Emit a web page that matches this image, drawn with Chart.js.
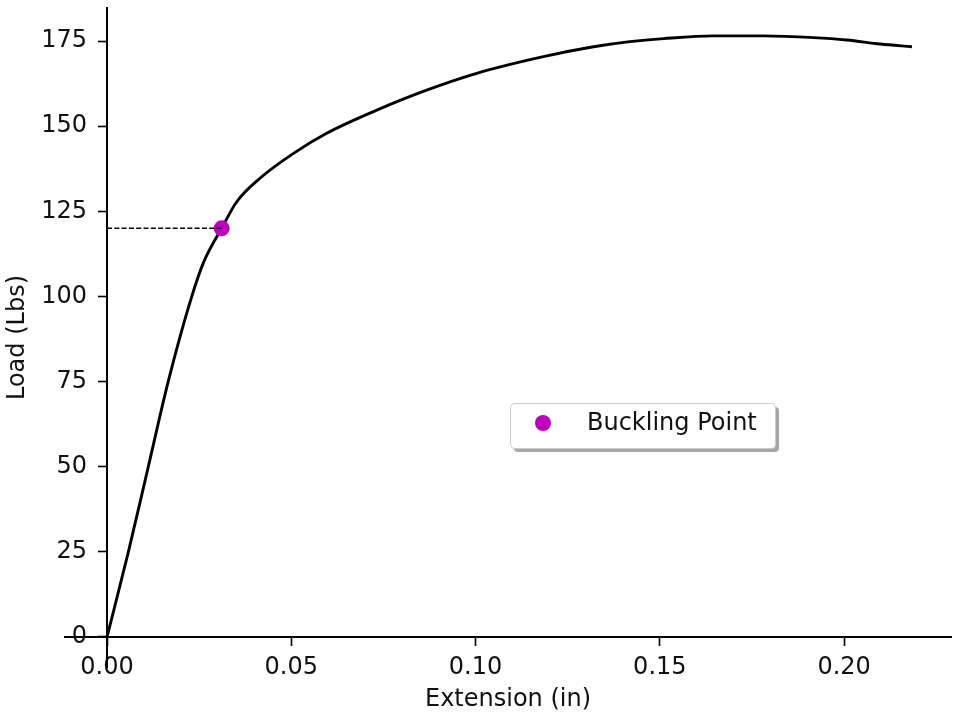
<!DOCTYPE html>
<html>
<head>
<meta charset="utf-8">
<script src="https://cdn.jsdelivr.net/npm/chart.js@4/dist/chart.umd.min.js"></script>
<style>
  html, body { margin: 0; padding: 0; background: #ffffff; }
  #wrap { width: 953px; height: 713px; }
</style>
</head>
<body>
<div id="wrap"><canvas id="c" width="953" height="713"></canvas></div>
<script>
// Load–extension curve of the tensile specimen
const extension = [0, 0.0058, 0.0112, 0.0166, 0.0230, 0.0262, 0.0311, 0.0352, 0.0415,
                   0.0506, 0.0596, 0.0732, 0.0858, 0.1003, 0.1184, 0.1320, 0.1419, 0.1510,
                   0.1645, 0.1781, 0.1917, 0.2007, 0.2098, 0.2184];
const load = [0, 25, 50, 75, 100, 110.0, 120.0, 127.8, 134.7,
              142.0, 147.9, 154.7, 160.2, 165.5, 170.4, 173.3, 174.8, 175.7,
              176.5, 176.5, 176.0, 175.3, 174.1, 173.3];

// Buckling point
const buckleExt = [0.0311];
const buckleLoad = [120.0];

// Tick values
const xTicks = [0, 0.05, 0.10, 0.15, 0.20];
const yTicks = [0, 25, 50, 75, 100, 125, 150, 175];

const FONT = { family: "'DejaVu Sans', sans-serif", size: 24 };
const TEXT = '#111111';
const MAGENTA = '#bf00bf';

const curvePts = extension.map((x, i) => ({ x, y: load[i] }));
const bucklePts = buckleExt.map((x, i) => ({ x, y: buckleLoad[i] }));
const guidePts = [{ x: 0, y: buckleLoad[0] }, { x: buckleExt[0], y: buckleLoad[0] }];

// Legend box with drop shadow, placed inside the plot area
const boxLegend = {
  id: 'boxLegend',
  afterDraw(chart) {
    const ds = chart.data.datasets[1];
    const ctx = chart.ctx;
    const x = 510, y = 403, w = 265, h = 45, r = 4;
    ctx.save();
    ctx.fillStyle = 'rgba(0,0,0,0.35)';
    ctx.beginPath();
    ctx.roundRect(x + 4, y + 4, w, h, r);
    ctx.fill();
    ctx.fillStyle = '#ffffff';
    ctx.strokeStyle = '#cccccc';
    ctx.lineWidth = 1;
    ctx.beginPath();
    ctx.roundRect(x + 0.5, y + 0.5, w, h, r);
    ctx.fill();
    ctx.stroke();
    ctx.fillStyle = ds.pointBackgroundColor;
    ctx.beginPath();
    ctx.arc(x + 33, y + 20, ds.pointRadius, 0, Math.PI * 2);
    ctx.fill();
    ctx.fillStyle = TEXT;
    ctx.font = `${FONT.size}px ${FONT.family}`;
    ctx.textBaseline = 'middle';
    ctx.textAlign = 'left';
    ctx.fillText(ds.label, x + 77, y + 21);
    ctx.restore();
  }
};

// Value labels of the y axis sit left of its tick marks
const yLabelGap = {
  id: 'yLabelGap',
  beforeDraw(chart) {
    const s = chart.scales.y;
    s.getLabelItems(chart.chartArea).forEach(it => {
      if (!it.moved) { it.options.translation[0] -= 20; it.moved = true; }
    });
  }
};

const tickGrid = {
  display: true,
  drawOnChartArea: false,
  drawTicks: true,
  tickLength: 8,
  tickWidth: 1.6,
  tickColor: '#000000'
};

const noPad = s => { s.paddingTop = 0; s.paddingBottom = 0; s.paddingLeft = 0; s.paddingRight = 0; };

new Chart(document.getElementById('c'), {
  type: 'line',
  data: {
    datasets: [
      {
        label: 'guide',
        data: guidePts,
        borderColor: '#000000',
        borderWidth: 1.4,
        borderDash: [5, 2.3],
        pointRadius: 0,
        fill: false
      },
      {
        label: 'Buckling Point',
        data: bucklePts,
        showLine: false,
        pointRadius: 8,
        pointBackgroundColor: MAGENTA,
        pointBorderWidth: 0,
        pointBorderColor: MAGENTA
      },
      {
        label: 'Load',
        data: curvePts,
        borderColor: '#000000',
        borderWidth: 2.9,
        pointRadius: 0,
        cubicInterpolationMode: 'monotone',
        fill: false
      }
    ]
  },
  options: {
    responsive: false,
    animation: false,
    devicePixelRatio: 1,
    layout: { autoPadding: false, padding: { top: 8, right: 2, left: 0, bottom: 46 } },
    plugins: { legend: { display: false }, tooltip: { enabled: false } },
    scales: {
      x: {
        type: 'linear',
        position: { y: 0 },
        min: -0.0114,
        max: 0.2290,
        afterBuildTicks: s => { s.ticks = xTicks.map(v => ({ value: v })); },
        afterFit: s => { s.height = 46; noPad(s); },
        ticks: {
          font: FONT, color: TEXT, padding: 8, maxRotation: 0, autoSkip: false,
          callback: v => Number(v).toFixed(2)
        },
        grid: tickGrid,
        border: { display: true, color: '#000000', width: 2 },
        title: {
          display: true, text: 'Extension (in)', font: FONT, color: TEXT,
          padding: { top: 0, bottom: -31 }
        }
      },
      y: {
        type: 'linear',
        position: { x: 0 },
        min: -8.81,
        max: 184.69,
        afterBuildTicks: s => { s.ticks = yTicks.map(v => ({ value: v })); },
        afterFit: s => { s.width = 0; noPad(s); },
        ticks: { font: FONT, color: TEXT, padding: 10, autoSkip: false, callback: v => String(v) },
        grid: tickGrid,
        border: { display: true, color: '#000000', width: 2 },
        title: { display: false }
      },
      yTitle: {
        type: 'linear',
        axis: 'y',
        position: 'left',
        display: true,
        afterFit: s => { s.width = 65; noPad(s); },
        ticks: { display: false },
        grid: { display: false },
        border: { display: false },
        title: {
          display: true, text: 'Load (Lbs)', font: FONT, color: TEXT,
          padding: { top: 3, bottom: 0 }
        }
      }
    }
  },
  plugins: [yLabelGap, boxLegend]
});
</script>
</body>
</html>
